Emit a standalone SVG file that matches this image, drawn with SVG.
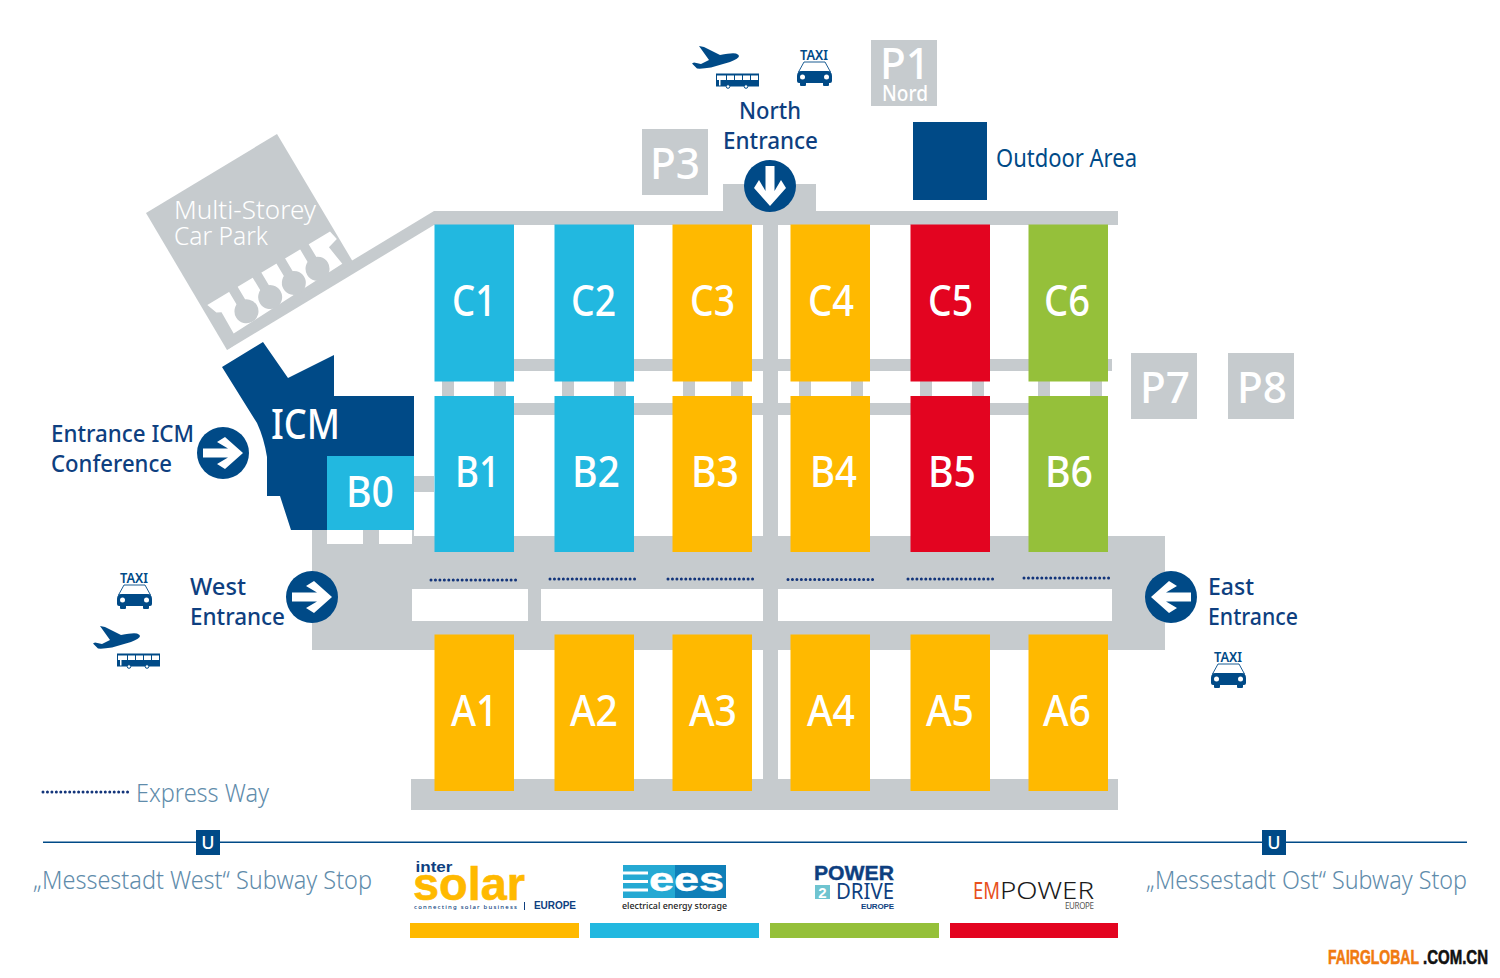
<svg xmlns="http://www.w3.org/2000/svg" xmlns:xlink="http://www.w3.org/1999/xlink" width="1500" height="978" viewBox="0 0 1500 978">
<style>
text{font-family:"Noto Sans","Open Sans","Liberation Sans",sans-serif}
.road{fill:#c6cbce}
.navy{fill:#004a87}
.blue{fill:#22b8e0}.yellow{fill:#ffb900}.red{fill:#e30420}.green{fill:#95c03a}
.hall{font-size:43px;font-weight:500;fill:#fff}
.park{font-size:43px;font-weight:500;fill:#fff}
.lbl{font-size:24px;font-weight:500;fill:#0e3f80}
.ink{font-size:25px;font-weight:400;fill:#004a87}
.muted{font-size:25px;font-weight:300;fill:#5f8cab}
.taxi{font-size:13.5px;font-weight:600;fill:#004a87}
.dots{fill:none;stroke:#12347a;stroke-width:3;stroke-linecap:round;stroke-dasharray:0 4.45}
.bold{font-family:"Liberation Sans",Arial,sans-serif;font-weight:700}
</style>
<defs>
<polygon id="arrow" fill="#fff" points="-20,-4.500 5,-4.500 -6,-11 2,-16 20,0 2,16 -6,11 5,4.500 -20,4.500"/>
<g id="car">
<path d="M7 12H28L33.5 22H1.5Z" fill="#fff" stroke="#004a87" stroke-width="0.9"/>
<path d="M5 21H30Q35 21 35 26V31Q35 33 33 33H32V35Q32 36 31 36H27Q26 36 26 35V33H9V35Q9 36 8 36H4Q3 36 3 35V33H2Q0 33 0 31V26Q0 21 5 21Z" fill="#004a87"/>
<circle cx="5.5" cy="27" r="2.5" fill="#fff"/><circle cx="29.5" cy="27" r="2.5" fill="#fff"/>
</g>
<path id="plane" fill="#004a87" d="M47 10Q47 12.500 38 16L19 21.500Q10 23 5 22.500L0 17.500L2 16.500L9 18L17 14L7 0L12 1L28 9Q40 6.500 44 7.500Q47 8.500 47 10Z"/>
<g id="bus">
<rect width="43" height="13" y="0" fill="#004a87"/>
<rect x="1" y="2" width="9" height="4.500" fill="#fff"/><rect x="11" y="2" width="7" height="4.500" fill="#fff"/><rect x="19" y="2" width="7" height="4.500" fill="#fff"/><rect x="27" y="2" width="7" height="4.500" fill="#fff"/><rect x="35" y="2" width="7" height="4.500" fill="#fff"/>
<rect x="3" y="6.500" width="1.500" height="5.500" fill="#fff"/>
<circle cx="12" cy="13" r="1.800" fill="#fff" stroke="#004a87"/><circle cx="30" cy="13" r="1.800" fill="#fff" stroke="#004a87"/>
</g>
</defs>
<rect width="1500" height="978" fill="#fff"/>

<g id="connectors">
<rect class="road" x="434" y="211" width="684" height="14"/>
<rect class="road" x="723" y="184" width="93" height="28"/>
<rect class="road" x="763" y="211" width="15" height="580"/>
<rect class="road" x="411" y="779" width="707" height="31"/>
<rect class="road" x="514" y="359" width="598" height="12"/>
<rect class="road" x="514" y="403" width="516" height="12"/>
<path class="road" d="M312 530H414V536H1165V650H312Z"/>
<rect x="327" y="530" width="36" height="14" fill="#fff"/><rect x="379" y="530" width="33" height="14" fill="#fff"/>
<rect x="412" y="589" width="116" height="32" fill="#fff"/><rect x="541" y="589" width="222" height="32" fill="#fff"/><rect x="778" y="589" width="334" height="32" fill="#fff"/>
<rect class="road" x="414" y="476" width="20" height="16"/>
<path class="road" d="M442 381h12v15h-12zM494 381h12v15h-12zM562 381h12v15h-12zM614 381h12v15h-12zM683 381h12v15h-12zM731 381h12v15h-12zM799 381h12v15h-12zM851 381h12v15h-12zM920 381h12v15h-12zM972 381h12v15h-12zM1038 381h12v15h-12zM1090 381h12v15h-12z"/>
<path class="dots" d="M431 580H518M550 579H638M668 579H756M788 579.500H876M908 579H996M1024 578H1112"/>
<path class="road" d="M353 260L434 211V225L227 350L240 330Z"/>
</g>

<g id="car-park">
<polygon class="road" points="146,213 277,134 353,262 227,350"/>
<g transform="translate(207.300,305) rotate(-30.900)">
<path fill="#fff" d="M0 0H143L145 10L134 13L137 34L8 38L8.500 13.500L4 11Z"/>
<g class="road">
<path d="M25.400 -1h10v27h-10zM53 -1h10v27h-10zM80.600 -1h10v27h-10zM108.200 -1h10v27h-10z"/>
<circle cx="30.400" cy="25.500" r="12"/><circle cx="58" cy="25.500" r="12"/><circle cx="85.600" cy="25.500" r="12"/><circle cx="113.200" cy="25.500" r="12"/>
</g>
</g>
<text x="174" y="219" font-size="26" font-weight="300" fill="#fff" textLength="142" lengthAdjust="spacingAndGlyphs">Multi-Storey</text>
<text x="174" y="245" font-size="26" font-weight="300" fill="#fff" textLength="94" lengthAdjust="spacingAndGlyphs">Car Park</text>
</g>

<g id="icm">
<path class="navy" d="M222 367L263 342L288 378L334 355V396H414V530H291L280 496H267V457Q264 438 257 423Z"/>
<text x="271" y="439" font-size="41" font-weight="500" fill="#fff" textLength="69" lengthAdjust="spacingAndGlyphs">ICM</text>
</g>
<g id="hall-B0"><rect class="blue" x="327" y="456" width="87" height="74"/><text class="hall" x="346" y="507" textLength="48" lengthAdjust="spacingAndGlyphs">B0</text></g>

<g id="hall-C1"><rect class="blue" x="434.500" y="224.500" width="79.500" height="157"/><text class="hall" x="452" y="316" textLength="44" lengthAdjust="spacingAndGlyphs">C1</text></g>
<g id="hall-C2"><rect class="blue" x="554.500" y="224.500" width="79.500" height="157"/><text class="hall" x="571" y="316" textLength="45" lengthAdjust="spacingAndGlyphs">C2</text></g>
<g id="hall-C3"><rect class="yellow" x="672.500" y="224.500" width="79.500" height="157"/><text class="hall" x="690" y="316" textLength="45" lengthAdjust="spacingAndGlyphs">C3</text></g>
<g id="hall-C4"><rect class="yellow" x="790.500" y="224.500" width="79.500" height="157"/><text class="hall" x="808" y="316" textLength="46" lengthAdjust="spacingAndGlyphs">C4</text></g>
<g id="hall-C5"><rect class="red" x="910.500" y="224.500" width="79.500" height="157"/><text class="hall" x="928" y="316" textLength="45" lengthAdjust="spacingAndGlyphs">C5</text></g>
<g id="hall-C6"><rect class="green" x="1028.500" y="224.500" width="79.500" height="157"/><text class="hall" x="1044" y="316" textLength="46" lengthAdjust="spacingAndGlyphs">C6</text></g>

<g id="hall-B1"><rect class="blue" x="434.500" y="396" width="79.500" height="156"/><text class="hall" x="455" y="487" textLength="45" lengthAdjust="spacingAndGlyphs">B1</text></g>
<g id="hall-B2"><rect class="blue" x="554.500" y="396" width="79.500" height="156"/><text class="hall" x="572" y="487" textLength="48" lengthAdjust="spacingAndGlyphs">B2</text></g>
<g id="hall-B3"><rect class="yellow" x="672.500" y="396" width="79.500" height="156"/><text class="hall" x="691" y="487" textLength="48" lengthAdjust="spacingAndGlyphs">B3</text></g>
<g id="hall-B4"><rect class="yellow" x="790.500" y="396" width="79.500" height="156"/><text class="hall" x="810" y="487" textLength="47" lengthAdjust="spacingAndGlyphs">B4</text></g>
<g id="hall-B5"><rect class="red" x="910.500" y="396" width="79.500" height="156"/><text class="hall" x="928" y="487" textLength="48" lengthAdjust="spacingAndGlyphs">B5</text></g>
<g id="hall-B6"><rect class="green" x="1028.500" y="396" width="79.500" height="156"/><text class="hall" x="1045" y="487" textLength="48" lengthAdjust="spacingAndGlyphs">B6</text></g>

<g id="hall-A1"><rect class="yellow" x="434.500" y="634.500" width="79.500" height="156.500"/><text class="hall" x="451" y="726" textLength="47" lengthAdjust="spacingAndGlyphs">A1</text></g>
<g id="hall-A2"><rect class="yellow" x="554.500" y="634.500" width="79.500" height="156.500"/><text class="hall" x="570" y="726" textLength="48" lengthAdjust="spacingAndGlyphs">A2</text></g>
<g id="hall-A3"><rect class="yellow" x="672.500" y="634.500" width="79.500" height="156.500"/><text class="hall" x="689" y="726" textLength="48" lengthAdjust="spacingAndGlyphs">A3</text></g>
<g id="hall-A4"><rect class="yellow" x="790.500" y="634.500" width="79.500" height="156.500"/><text class="hall" x="807" y="726" textLength="48" lengthAdjust="spacingAndGlyphs">A4</text></g>
<g id="hall-A5"><rect class="yellow" x="910.500" y="634.500" width="79.500" height="156.500"/><text class="hall" x="926" y="726" textLength="48" lengthAdjust="spacingAndGlyphs">A5</text></g>
<g id="hall-A6"><rect class="yellow" x="1028.500" y="634.500" width="79.500" height="156.500"/><text class="hall" x="1043" y="726" textLength="48" lengthAdjust="spacingAndGlyphs">A6</text></g>

<g id="parking-P3"><rect class="road" x="642" y="129" width="66" height="66"/><text class="park" x="650" y="179" textLength="50" lengthAdjust="spacingAndGlyphs">P3</text></g>
<g id="parking-P1"><rect class="road" x="871" y="40" width="66" height="66"/><text class="park" x="880" y="79" textLength="50" lengthAdjust="spacingAndGlyphs">P1</text><text x="882" y="101" font-size="21" font-weight="500" fill="#fff" textLength="46" lengthAdjust="spacingAndGlyphs">Nord</text></g>
<g id="parking-P7"><rect class="road" x="1131" y="353" width="66" height="66"/><text class="park" x="1140" y="403" textLength="50" lengthAdjust="spacingAndGlyphs">P7</text></g>
<g id="parking-P8"><rect class="road" x="1228" y="353" width="66" height="66"/><text class="park" x="1237" y="403" textLength="50" lengthAdjust="spacingAndGlyphs">P8</text></g>

<g id="outdoor-area"><rect class="navy" x="913" y="122" width="74" height="78"/><text class="ink" x="996" y="167" textLength="141" lengthAdjust="spacingAndGlyphs">Outdoor Area</text></g>

<g id="north-entrance">
<use xlink:href="#plane" href="#plane" x="692" y="46"/><use xlink:href="#bus" href="#bus" x="716" y="73.500"/>
<text class="taxi" x="800" y="60" textLength="28" lengthAdjust="spacingAndGlyphs">TAXI</text><use xlink:href="#car" href="#car" x="797" y="50"/>
<text class="lbl" x="739" y="118.500" textLength="62" lengthAdjust="spacingAndGlyphs">North</text>
<text class="lbl" x="723" y="148.500" textLength="95" lengthAdjust="spacingAndGlyphs">Entrance</text>
<circle class="navy" cx="770" cy="186" r="26"/><use xlink:href="#arrow" href="#arrow" transform="translate(770,186) rotate(90)"/>
</g>
<g id="icm-entrance">
<text class="lbl" x="51" y="442" textLength="143" lengthAdjust="spacingAndGlyphs">Entrance ICM</text>
<text class="lbl" x="51" y="472" textLength="121" lengthAdjust="spacingAndGlyphs">Conference</text>
<circle class="navy" cx="223" cy="453" r="26"/><use xlink:href="#arrow" href="#arrow" transform="translate(223,453)"/>
</g>
<g id="west-entrance">
<text class="taxi" x="120" y="583" textLength="28" lengthAdjust="spacingAndGlyphs">TAXI</text><use xlink:href="#car" href="#car" x="117" y="573"/>
<use xlink:href="#plane" href="#plane" x="93" y="626"/><use xlink:href="#bus" href="#bus" x="117" y="653.500"/>
<text class="lbl" x="190" y="595" textLength="56" lengthAdjust="spacingAndGlyphs">West</text>
<text class="lbl" x="190" y="625" textLength="95" lengthAdjust="spacingAndGlyphs">Entrance</text>
<circle class="navy" cx="312" cy="597" r="26"/><use xlink:href="#arrow" href="#arrow" transform="translate(312,597)"/>
</g>
<g id="east-entrance">
<circle class="navy" cx="1171" cy="597" r="26"/><use xlink:href="#arrow" href="#arrow" transform="translate(1171,597) rotate(180)"/>
<text class="lbl" x="1208" y="595" textLength="46" lengthAdjust="spacingAndGlyphs">East</text>
<text class="lbl" x="1208" y="625" textLength="90" lengthAdjust="spacingAndGlyphs">Entrance</text>
<text class="taxi" x="1214" y="662" textLength="28" lengthAdjust="spacingAndGlyphs">TAXI</text><use xlink:href="#car" href="#car" x="1211" y="652"/>
</g>

<g id="legend-express">
<path class="dots" d="M43 792H131"/>
<text class="muted" x="136" y="802" textLength="133" lengthAdjust="spacingAndGlyphs">Express Way</text>
</g>

<g id="subway">
<rect class="navy" x="43" y="841.500" width="1424" height="1.500"/>
<rect class="navy" x="196" y="830" width="24" height="25"/><text x="208" y="849" font-size="18" font-weight="500" fill="#fff" text-anchor="middle">U</text>
<rect class="navy" x="1262" y="830" width="24" height="25"/><text x="1274" y="849" font-size="18" font-weight="500" fill="#fff" text-anchor="middle">U</text>
<text class="muted" x="33" y="889" textLength="339" lengthAdjust="spacingAndGlyphs">„Messestadt West“ Subway Stop</text>
<text class="muted" x="1146" y="889" textLength="321" lengthAdjust="spacingAndGlyphs">„Messestadt Ost“ Subway Stop</text>
</g>

<g id="logo-intersolar">
<text class="bold" x="415.500" y="872" font-size="15" fill="#0e3f80" textLength="37" lengthAdjust="spacingAndGlyphs">inter</text>
<text class="bold" x="413" y="900" font-size="46" fill="#ffb900" stroke="#ffb900" stroke-width="0.6" textLength="112" lengthAdjust="spacingAndGlyphs">solar</text>
<text x="414" y="909" font-size="6" font-weight="500" fill="#0e3f80" textLength="103">connecting solar business</text>
<rect x="524" y="902" width="1" height="8" fill="#0e3f80"/>
<text class="bold" x="534" y="909" font-size="10" fill="#0e3f80" textLength="42">EUROPE</text>
<rect class="yellow" x="410" y="923" width="169" height="15"/>
</g>
<g id="logo-ees">
<rect x="623" y="865" width="52" height="33" fill="#25a9d3"/><rect x="675" y="865" width="51" height="33" fill="#0f7fb8"/>
<path fill="#fff" d="M623 871.500h25v3h-25zM623 880h25v3h-25zM623 888.500h25v3h-25z"/>
<text class="bold" x="649" y="891" font-size="33" fill="#fff" stroke="#fff" stroke-width="0.5" textLength="75" lengthAdjust="spacingAndGlyphs">ees</text>
<text x="622" y="909" font-size="9.500" font-weight="500" fill="#222" textLength="105" lengthAdjust="spacingAndGlyphs">electrical energy storage</text>
<rect class="blue" x="590" y="923" width="169" height="15"/>
</g>
<g id="logo-power2drive">
<text class="bold" x="814" y="880" font-size="21" fill="#0e3f80" stroke="#0e3f80" stroke-width="0.4" textLength="80" lengthAdjust="spacingAndGlyphs">POWER</text>
<rect x="815" y="885" width="15" height="14" fill="#6fc4d0"/>
<text class="bold" x="822.500" y="898" font-size="15" fill="#fff" text-anchor="middle">2</text>
<text x="836" y="899" font-size="21" font-weight="400" fill="#0e3f80" textLength="58" lengthAdjust="spacingAndGlyphs">DRIVE</text>
<text class="bold" x="861" y="909" font-size="8" fill="#0e3f80" textLength="33">EUROPE</text>
<rect class="green" x="770" y="923" width="169" height="15"/>
</g>
<g id="logo-empower">
<text x="973" y="899" font-size="24" font-weight="400" fill="#e8501c" textLength="27" lengthAdjust="spacingAndGlyphs">EM</text>
<text x="1000" y="899" font-size="24" font-weight="300" fill="#1a1a1a" textLength="94" lengthAdjust="spacingAndGlyphs">POWER</text>
<text x="1065" y="909" font-size="8" font-weight="400" fill="#555" textLength="29">EUROPE</text>
<rect class="red" x="950" y="923" width="168" height="15"/>
</g>

<g id="watermark">
<text class="bold" transform="translate(1328,964) scale(1,1.550)" font-size="13.500" fill="#f07a10" stroke="#f07a10" stroke-width="0.4" textLength="91" lengthAdjust="spacingAndGlyphs">FAIRGLOBAL</text>
<text class="bold" transform="translate(1423,964) scale(1,1.550)" font-size="13.500" fill="#111" stroke="#111" stroke-width="0.4" textLength="65" lengthAdjust="spacingAndGlyphs">.COM.CN</text>
</g>
</svg>
